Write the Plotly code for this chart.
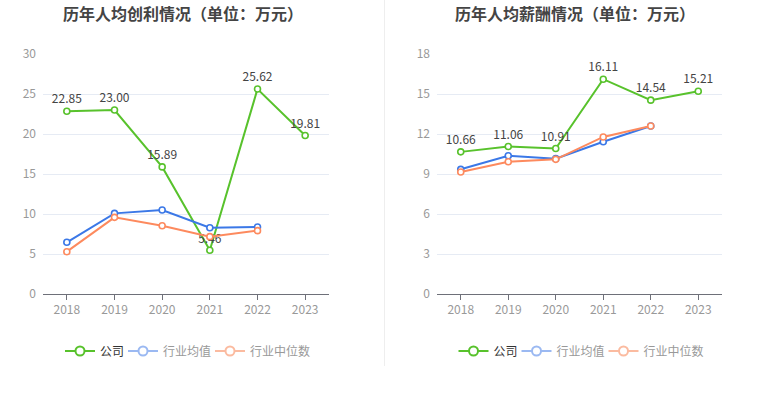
import plotly.graph_objects as go

years = ["2018", "2019", "2020", "2021", "2022", "2023"]

# Left chart: 历年人均创利情况
profit_company = [22.85, 23.00, 15.89, 5.46, 25.62, 19.81]
profit_mean = [6.46, 10.08, 10.50, 8.29, 8.37, None]
profit_median = [5.29, 9.58, 8.54, 7.17, 7.92, None]

# Right chart: 历年人均薪酬情况
salary_company = [10.66, 11.06, 10.91, 16.11, 14.54, 15.21]
salary_mean = [9.35, 10.37, 10.15, 11.42, 12.60, None]
salary_median = [9.15, 9.92, 10.10, 11.78, 12.60, None]

series_names = ["公司", "行业均值", "行业中位数"]
colors = ["#58C22C", "#3B78E7", "#FD8A5E"]
legend_colors = ["#58C22C", "#9BB9F2", "#FBBBA0"]
legend_text_colors = ["#333333", "#999999", "#999999"]

FONT = "Noto Sans CJK SC, Noto Sans, sans-serif"
xi = list(range(len(years)))

# legend icon centres (px) for each panel's three entries
legend_centres = [[78, 141, 228], [471.5, 534.5, 621.5]]
LEGEND_Y = 351

fig = go.Figure()


def add_panel(p, xa, ya, company, mean, median):
    data = [company, mean, median]
    for k, vals in enumerate(data):
        is_company = k == 0
        fig.add_trace(go.Scatter(
            x=xi, y=vals, xaxis=xa, yaxis=ya,
            mode="lines+markers+text" if is_company else "lines+markers",
            line=dict(color=colors[k], width=2),
            marker=dict(symbol="circle", size=6, color="white",
                        line=dict(color=colors[k], width=1.6)),
            text=[f"{v:.2f}" for v in vals] if is_company else None,
            textposition="top center",
            textfont=dict(family=FONT, size=12, color="#444444"),
            showlegend=False, hoverinfo="skip", cliponaxis=False,
        ))
    for k in range(3):
        idx = p * 3 + k + 1
        lname = "legend" if idx == 1 else f"legend{idx}"
        fig.add_trace(go.Scatter(
            x=[None], y=[None], xaxis=xa, yaxis=ya,
            mode="lines+markers",
            name=f"<span style='color:{legend_text_colors[k]}'>{series_names[k]}</span>",
            line=dict(color=legend_colors[k], width=2),
            marker=dict(symbol="circle", size=9, color="white",
                        line=dict(color=legend_colors[k], width=2)),
            showlegend=True, legend=lname,
        ))
        fig.update_layout({lname: dict(
            orientation="h", x=(legend_centres[p][k] - 18) / 765, xanchor="left",
            y=1 - LEGEND_Y / 393, yanchor="middle",
            font=dict(family=FONT, size=12), itemwidth=30, bgcolor="rgba(0,0,0,0)",
        )})


add_panel(0, "x", "y", profit_company, profit_mean, profit_median)
add_panel(1, "x2", "y2", salary_company, salary_mean, salary_median)

ydom = [1 - 294 / 393, 1 - 54 / 393]
xaxis_common = dict(
    range=[-0.5, 5.5], tickvals=xi, ticktext=years,
    showgrid=False, zeroline=False, showline=True, linecolor="#6E7079", linewidth=1,
    ticks="outside", ticklen=5, tickcolor="#6E7079", automargin=False,
    tickfont=dict(family=FONT, size=12, color="#999999"), fixedrange=True,
)
yaxis_common = dict(
    showgrid=True, gridcolor="#E6EBF4", gridwidth=1, zeroline=False, showline=False,
    ticks="", tickfont=dict(family=FONT, size=12, color="#999999"), automargin=False,
    ticklabelstandoff=6, fixedrange=True,
)

fig.update_layout(
    width=765, height=393, autosize=False,
    margin=dict(l=0, r=0, t=0, b=0, pad=0, autoexpand=False),
    paper_bgcolor="white", plot_bgcolor="white",
    font=dict(family=FONT),
    xaxis=dict(domain=[43 / 765, 329 / 765], anchor="y", **xaxis_common),
    yaxis=dict(domain=ydom, anchor="x", range=[0, 30], tickvals=[0, 5, 10, 15, 20, 25, 30], **yaxis_common),
    xaxis2=dict(domain=[437 / 765, 722 / 765], anchor="y2", **xaxis_common),
    yaxis2=dict(domain=ydom, anchor="x2", range=[0, 18], tickvals=[0, 3, 6, 9, 12, 15, 18], **yaxis_common),
    annotations=[
        dict(text="<b>历年人均创利情况（单位：万元）</b>", x=183 / 765, y=1 - 13 / 393,
             xref="paper", yref="paper", xanchor="center", yanchor="middle", showarrow=False,
             font=dict(family=FONT, size=16, color="#444444")),
        dict(text="<b>历年人均薪酬情况（单位：万元）</b>", x=575 / 765, y=1 - 13 / 393,
             xref="paper", yref="paper", xanchor="center", yanchor="middle", showarrow=False,
             font=dict(family=FONT, size=16, color="#444444")),
    ],
    shapes=[
        dict(type="line", xref="paper", yref="paper", x0=384.5 / 765, x1=384.5 / 765,
             y0=1 - 366 / 393, y1=1, line=dict(color="#EEEEEE", width=1)),
    ],
)

fig.write_html(
    "out.html",
    config={"displayModeBar": False},
    post_script="document.body.style.margin='0';document.body.style.overflow='hidden';",
)
